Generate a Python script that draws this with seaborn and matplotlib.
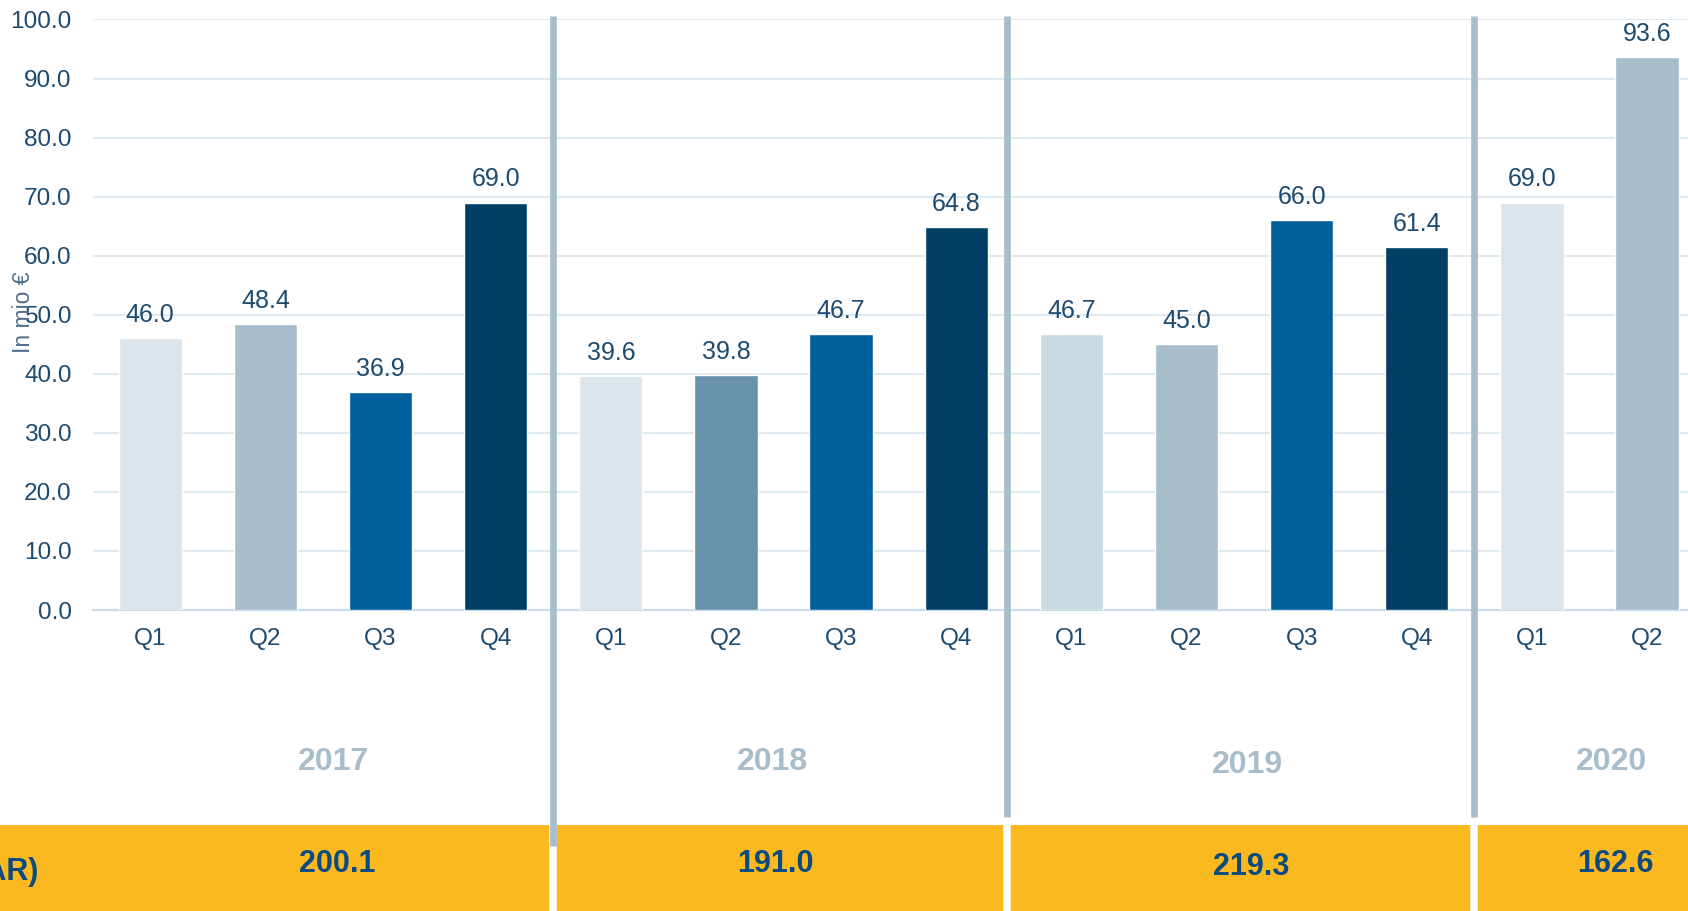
import pandas as pd
import matplotlib.pyplot as plt
import matplotlib.transforms as mtransforms
from matplotlib.patches import Rectangle
import seaborn as sns

# Data
years = ["2017", "2018", "2019", "2020"]
quarters = ["Q1", "Q2", "Q3", "Q4", "Q1", "Q2", "Q3", "Q4",
            "Q1", "Q2", "Q3", "Q4", "Q1", "Q2"]
period_year = ["2017"] * 4 + ["2018"] * 4 + ["2019"] * 4 + ["2020"] * 2
values = [46.0, 48.4, 36.9, 69.0, 39.6, 39.8, 46.7, 64.8,
          46.7, 45.0, 66.0, 61.4, 69.0, 93.6]
year_totals = ["200.1", "191.0", "219.3", "162.6"]
bar_colors = ["#dce4ec", "#a7bdcc", "#00609c", "#003f63",
              "#dde5ec", "#6892ac", "#00609c", "#003f63",
              "#c8d9e2", "#a7bdcc", "#00609c", "#003f63",
              "#dde5ec", "#a7bdcc"]
yticks = [0, 10, 20, 30, 40, 50, 60, 70, 80, 90, 100]

df = pd.DataFrame({
    "period": [f"{y}-{q}" for y, q in zip(period_year, quarters)],
    "value": values,
})

sns.set_style("white")
plt.rcParams["font.family"] = ["Liberation Sans", "DejaVu Sans"]

text_dark = "#1d4a6e"
sep_color = "#a7bdcc"
band_color = "#f9b91f"

fig = plt.figure(figsize=(16.88, 9.11), dpi=100)
ax = fig.add_axes([0.0549, 0.3304, 0.9451, 0.6482])

sns.barplot(data=df, x="period", y="value", hue="period",
            palette=bar_colors, legend=False, width=0.55,
            saturation=1, ax=ax, zorder=3)

for container in ax.containers:
    ax.bar_label(container, fmt="%.1f", padding=8, fontsize=18,
                 color=text_dark)

ax.set_xlim(-0.5, 13.355)
ax.set_ylim(0, 100)
ax.set_yticks(yticks)
ax.set_yticklabels([f"{t:.1f}" for t in yticks], fontsize=17.6, color=text_dark)
ax.set_xticks(range(len(quarters)))
ax.set_xticklabels(quarters, fontsize=17.6, color=text_dark)
ax.tick_params(axis="both", length=0)
ax.tick_params(axis="y", pad=15)
ax.tick_params(axis="x", pad=13)
ax.set_xlabel("")
ax.set_ylabel("")

ax.yaxis.grid(True, color="#e0e8f0", linewidth=1.5, zorder=0)
ax.set_axisbelow(True)
for side in ["top", "right", "left"]:
    ax.spines[side].set_visible(False)
ax.spines["bottom"].set_color("#c5dcf0")
ax.spines["bottom"].set_linewidth(1.5)

fig.text(0.014, 0.657, "In mio €", rotation=90, fontsize=16.5,
         color="#4f6f8c", ha="center", va="center")

trans = mtransforms.blended_transform_factory(ax.transData, ax.transAxes)

# yellow band with totals
ax.add_patch(Rectangle((-0.1, -0.52), 1.2, 0.156, transform=ax.transAxes,
                       facecolor=band_color, edgecolor="none",
                       clip_on=False, zorder=1))

sep_x = [3.5, 7.44, 11.5]
sep_bottom = [-0.40, -0.35, -0.35]
for x, yb in zip(sep_x, sep_bottom):
    ax.plot([x, x], [-0.52, -0.36], transform=trans, color="white",
            linewidth=5.4, clip_on=False, zorder=2, solid_capstyle="butt")
    ax.plot([x, x], [yb, 1.006], transform=trans, color=sep_color,
            linewidth=4.8, clip_on=False, zorder=4, solid_capstyle="butt")

year_x = [1.59, 5.40, 9.53, 12.69]
year_y = [-0.257, -0.257, -0.2625, -0.257]
total_x = [1.62, 5.43, 9.56, 12.72]
total_y = [-0.430, -0.430, -0.436, -0.430]
for yr, x, y in zip(years, year_x, year_y):
    ax.text(x, y, yr, transform=trans, ha="center", va="center",
            fontsize=23, fontweight="bold", color=sep_color)
for tot, x, y in zip(year_totals, total_x, total_y):
    ax.text(x, y, tot, transform=trans, ha="center", va="center",
            fontsize=22, fontweight="bold", color="#0d4a80", zorder=5)

fig.text(38 / 1688, 1 - 872 / 911, "(FULL YEAR)", ha="right", va="center",
         fontsize=22, fontweight="bold", color="#0d4a80")

plt.savefig("out.png", dpi=100)
plt.close()
